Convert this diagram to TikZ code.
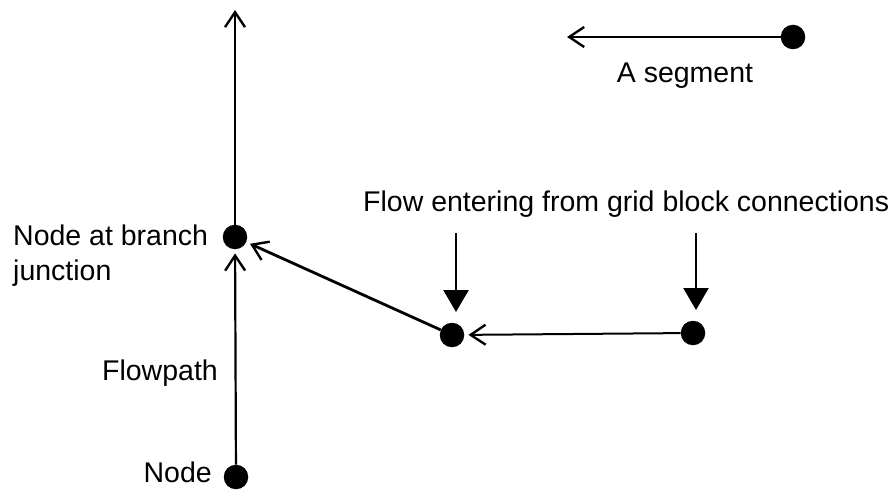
\documentclass[tikz,border=0pt]{standalone}
\usepackage{fontspec}
\setmainfont{Liberation Sans}
\usetikzlibrary{arrows.meta}
\begin{document}
\begin{tikzpicture}[x=1pt,y=-1pt,
  dot/.style={circle,fill=black,inner sep=0pt,minimum size=24.5pt},
  lbl/.style={inner sep=0pt,font=\fontsize{28.5}{34}\selectfont},
  flow/.style={line width=2.2pt,-{Straight Barb[length=15pt,width=20pt,line width=2.4pt]},shorten >=4pt},
  inflow/.style={line width=2.4pt,-{Triangle[length=22pt,width=25pt]}}]
\useasboundingbox (0,0) rectangle (892,495);
\fill[white] (0,0) rectangle (892,495);
% nodes
\node[dot] (branch) at (235,237) {};
\node[dot] (bottom) at (236,477) {};
\node[dot] (mid) at (452,335) {};
\node[dot] (right) at (693,333) {};
\node[dot] (seg) at (793,37) {};
\coordinate (top) at (235,10);
\coordinate (segend) at (567,37);
\coordinate (in1s) at (456,233);
\coordinate (in1e) at (456,312);
\coordinate (in2s) at (696,233);
\coordinate (in2e) at (696,310);
% connectors
\draw[flow,shorten >=0pt] (branch) -- (top);
\draw[flow] (bottom) -- (branch);
\draw[flow,line width=2.8pt] (mid) -- (branch);
\draw[flow,line width=2pt] (right) -- (mid);
\draw[flow,line width=2pt,shorten >=0pt] (seg) -- (segend);
\draw[inflow] (in1s) -- (in1e);
\draw[inflow] (in2s) -- (in2e);
% labels
\node[lbl,anchor=base] (tseg) at (685,82) {A segment};
\node[lbl,anchor=base west] (tflow) at (363,211) {Flow entering from grid block connections};
\node[lbl,anchor=base west] (tbr1) at (13,245) {Node at branch};
\node[lbl,anchor=base west] (tbr2) at (13,280) {junction};
\node[lbl,anchor=base east] (tpath) at (218,380) {Flowpath};
\node[lbl,anchor=base east] (tnode) at (212,482) {Node};
\end{tikzpicture}
\end{document}
